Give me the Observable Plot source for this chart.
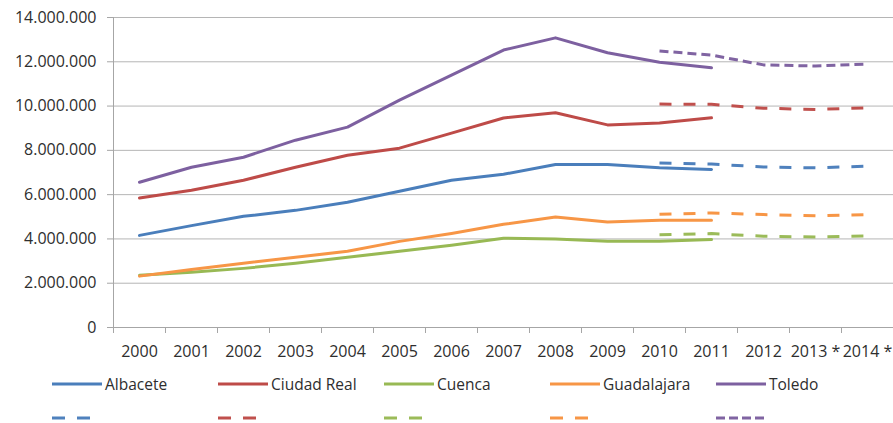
<!DOCTYPE html>
<html><head><meta charset="utf-8">
<script src="https://cdn.jsdelivr.net/npm/d3@7"></script>
<script src="https://cdn.jsdelivr.net/npm/@observablehq/plot@0.6"></script>
<style>
body{margin:0;background:#fff;font-family:"Open Sans",sans-serif;color:#333;}
#legend{margin-top:0;}
.row{display:flex;height:34px;align-items:center;padding-left:52px;}
.item{width:166px;display:flex;align-items:center;font-size:15.5px;color:#2e2e2e;}
.item svg{margin-right:3px;}
</style></head><body><div id="chart"></div><div id="legend"></div>
<script>
const years = ["2000","2001","2002","2003","2004","2005","2006","2007","2008","2009","2010","2011","2012","2013 *","2014 *"];
const provinces = ["Albacete","Ciudad Real","Cuenca","Guadalajara","Toledo"];
const colors = ["#4a7ebb","#be4b48","#98b954","#f79646","#7d60a0"];
const projColors = ["#4f81bd","#c0504d","#9bbb59","#f79646","#8064a2"];
// observed 2000-2011
const albacete   = [4160000,4600000,5020000,5290000,5660000,6150000,6650000,6920000,7360000,7360000,7210000,7140000];
const ciudadReal = [5850000,6200000,6650000,7240000,7780000,8100000,8780000,9460000,9700000,9150000,9240000,9470000];
const cuenca     = [2360000,2490000,2670000,2900000,3170000,3440000,3710000,4030000,4000000,3890000,3890000,3970000];
const guadalajara= [2320000,2620000,2900000,3170000,3440000,3890000,4250000,4660000,4990000,4760000,4840000,4840000];
const toledo     = [6560000,7240000,7690000,8460000,9050000,10270000,11400000,12530000,13080000,12410000,11980000,11730000];
// projected 2010-2014
const albaceteProj   = [7430000,7380000,7250000,7210000,7290000];
const ciudadRealProj = [10090000,10080000,9900000,9850000,9920000];
const cuencaProj     = [4190000,4240000,4120000,4090000,4130000];
const guadalajaraProj= [5110000,5170000,5100000,5050000,5100000];
const toledoProj     = [12490000,12300000,11860000,11810000,11900000];
const yTicks = [0,2000000,4000000,6000000,8000000,10000000,12000000,14000000];

const observed = [albacete,ciudadReal,cuenca,guadalajara,toledo];
const projected = [albaceteProj,ciudadRealProj,cuencaProj,guadalajaraProj,toledoProj];
const projStart = 10;
const dashes = ["12,12","12,12","12,12","12,12","9,5"];
const legendDashes = ["13,12","13,12","13,12","13,12","9,4"];

const obsData = observed.flatMap((arr,k)=>arr.map((v,i)=>({i, v, key:provinces[k]})));
const projData = projected.map((arr,k)=>arr.map((v,j)=>({i:projStart+j, v, key:provinces[k]})));
const boundaries = d3.range(years.length+1).map(i=>i-0.5);

const fmt = d3.formatLocale({thousands:".", grouping:[3], decimal:",", currency:["",""]}).format(",d");

const chart = Plot.plot({
  width: 893, height: 367,
  marginLeft: 113, marginRight: 0, marginTop: 17, marginBottom: 40,
  style: {fontFamily: '"Open Sans", sans-serif', fontSize: "16px", color: "#2e2e2e", background: "#fff", overflow: "visible"},
  x: {type: "linear", domain: [-0.5, years.length-0.5]},
  y: {domain: [0, 14000000]},
  color: {domain: provinces, range: colors},
  marks: [
    Plot.gridY(yTicks, {stroke: "#b5b5b5", strokeOpacity: 1, strokeWidth: 1}),
    Plot.ruleX([-0.5], {stroke: "#a6a6a6"}),
    Plot.ruleY([0], {stroke: "#a6a6a6"}),
    Plot.axisY({ticks: yTicks, tickFormat: fmt, tickSize: 6, tickPadding: 11, stroke: "#a6a6a6", label: null, fill: "#2e2e2e"}),
    Plot.axisX({ticks: boundaries, tickFormat: () => "", tickSize: 6, stroke: "#a6a6a6", label: null}),
    Plot.axisX({ticks: d3.range(years.length), tickFormat: i => years[i], tickSize: 0, tickPadding: 18, label: null, fill: "#2e2e2e"}),
    Plot.line(obsData, {x: "i", y: "v", z: "key", stroke: d => d.key, strokeWidth: 3, curve: "linear"}),
    ...projData.map((d,k)=>Plot.line(d, {x: "i", y: "v", stroke: projColors[k], strokeWidth: 3, strokeDasharray: dashes[k], strokeLinecap: "butt"}))
  ]
});
document.getElementById("chart").appendChild(chart);

// legend
const legend = document.getElementById("legend");
function sample(color, dash, w){
  return `<svg width="${w}" height="6"><line x1="0" y1="3" x2="${w}" y2="3" stroke="${color}" stroke-width="3" ${dash?`stroke-dasharray="${dash}"`:""}/></svg>`;
}
const row1 = document.createElement("div"); row1.className = "row";
row1.innerHTML = provinces.map((p,k)=>`<div class="item">${sample(colors[k], null, 50)}<span>${p}</span></div>`).join("");
const row2 = document.createElement("div"); row2.className = "row";
row2.innerHTML = provinces.map((p,k)=>`<div class="item">${sample(projColors[k], legendDashes[k], k===4?48:38)}</div>`).join("");
legend.appendChild(row1); legend.appendChild(row2);
</script></body></html>
